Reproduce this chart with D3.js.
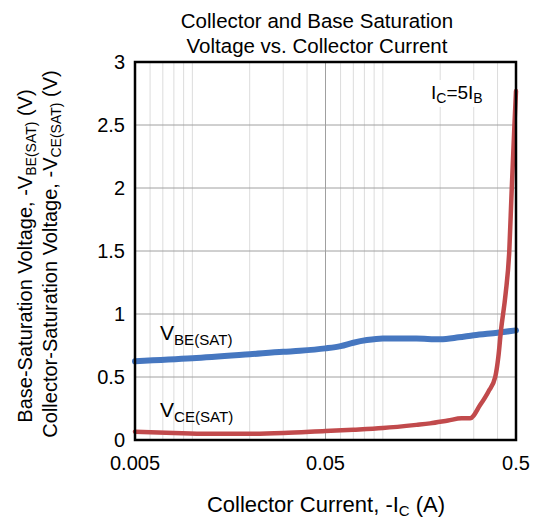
<!DOCTYPE html>
<html><head><meta charset="utf-8">
<script src="https://cdn.jsdelivr.net/npm/d3@7"></script>
<style>body{margin:0;background:#fff}svg{display:block;font-family:"Liberation Sans",Arial,sans-serif}</style>
</head><body><svg id="c" width="537" height="522"></svg>
<script>
const vbeCurrent = [0.005, 0.01, 0.02, 0.03, 0.0367, 0.05, 0.06, 0.07, 0.0824, 0.1, 0.15, 0.2, 0.25, 0.3, 0.4, 0.5];
const vbeValues  = [0.625, 0.648, 0.68, 0.70, 0.708, 0.727, 0.745, 0.772, 0.793, 0.806, 0.805, 0.80, 0.815, 0.832, 0.852, 0.87];
const vceCurrent = [0.005, 0.008, 0.012, 0.02, 0.03, 0.05, 0.07, 0.1, 0.15, 0.177, 0.22, 0.259, 0.287, 0.324, 0.358, 0.389, 0.404, 0.417, 0.441, 0.461, 0.474, 0.49, 0.5];
const vceValues  = [0.066, 0.056, 0.05, 0.05, 0.056, 0.072, 0.082, 0.095, 0.12, 0.132, 0.155, 0.172, 0.172, 0.277, 0.383, 0.50, 0.66, 0.87, 1.16, 1.5, 1.96, 2.48, 2.77];
const xTicks = [0.005, 0.05, 0.5];
const yTicks = [0, 0.5, 1, 1.5, 2, 2.5, 3];

const svg = d3.select("#c");
const L = 135, R = 516, T = 62, B = 440;
const x = d3.scaleLog().domain([0.005, 0.5]).range([L, R]);
const y = d3.scaleLinear().domain([0, 3]).range([B, T]);

// minor vertical grid
const minor = [];
[0.001, 0.01, 0.1].forEach(d => { for (let k = 1; k <= 9; k++) { const v = d * k; if (v > 0.005 && v < 0.5 && Math.abs(v - 0.05) > 1e-9) minor.push(v); } });
svg.append("g").selectAll("line").data(minor).join("line")
  .attr("x1", d => x(d)).attr("x2", d => x(d)).attr("y1", T).attr("y2", B)
  .attr("stroke", "#dcdcdc").attr("stroke-width", 1);
svg.append("g").selectAll("line").data([0.05]).join("line")
  .attr("x1", d => x(d)).attr("x2", d => x(d)).attr("y1", T).attr("y2", B)
  .attr("stroke", "#a0a0a0").attr("stroke-width", 1);
svg.append("g").selectAll("line").data(yTicks.slice(1, -1)).join("line")
  .attr("x1", L).attr("x2", R).attr("y1", d => y(d)).attr("y2", d => y(d))
  .attr("stroke", "#a0a0a0").attr("stroke-width", 1);

// annotation
const ann = svg.append("g");
ann.append("rect").attr("x", 428).attr("y", 80).attr("width", 64).attr("height", 27).attr("fill", "#fff");
const at = ann.append("text").attr("x", 431).attr("y", 99).attr("font-size", 19).attr("fill", "#000");
at.append("tspan").text("I");
at.append("tspan").attr("dy", 4).attr("font-size", 14).text("C");
at.append("tspan").attr("dy", -4).text("=5I");
at.append("tspan").attr("dy", 4).attr("font-size", 14).text("B");

const line = d3.line().x(d => x(d[0])).y(d => y(d[1])).curve(d3.curveMonotoneX);
svg.append("path").datum(vbeCurrent.map((c, i) => [c, vbeValues[i]]))
  .attr("d", line).attr("fill", "none").attr("stroke", "#4677c0").attr("stroke-width", 6).attr("stroke-linecap", "round");
svg.append("path").datum(vceCurrent.map((c, i) => [c, vceValues[i]]))
  .attr("d", line).attr("fill", "none").attr("stroke", "#c14a4c").attr("stroke-width", 4.5).attr("stroke-linecap", "round");

// frame
svg.append("rect").attr("x", L).attr("y", T).attr("width", R - L).attr("height", B - T)
  .attr("fill", "none").attr("stroke", "#000").attr("stroke-width", 2.5);

// axes tick labels
svg.append("g").selectAll("text").data(yTicks).join("text")
  .attr("x", 125).attr("y", d => y(d) + 7).attr("text-anchor", "end").attr("font-size", 20).text(d => d);
svg.append("g").selectAll("text").data(xTicks).join("text")
  .attr("x", d => x(d)).attr("y", 469.5).attr("text-anchor", "middle").attr("font-size", 20).text(d => d);

// curve labels
function sub(g, xx, yy, main, s, fs) {
  const t = g.append("text").attr("x", xx).attr("y", yy).attr("font-size", fs);
  t.append("tspan").text(main);
  t.append("tspan").attr("dy", 5).attr("font-size", fs * 0.72).text(s);
  return t;
}
sub(svg, 160, 340, "V", "BE(SAT)", 21);
sub(svg, 160, 417, "V", "CE(SAT)", 21);

// title
svg.append("text").attr("x", 317).attr("y", 28).attr("text-anchor", "middle").attr("font-size", 20.5).text("Collector and Base Saturation");
svg.append("text").attr("x", 317).attr("y", 53).attr("text-anchor", "middle").attr("font-size", 20.5).text("Voltage vs. Collector Current");

// x title
const xt = svg.append("text").attr("x", 326).attr("y", 512).attr("text-anchor", "middle").attr("font-size", 22);
xt.append("tspan").text("Collector Current, -I");
xt.append("tspan").attr("dy", 4).attr("font-size", 15).text("C");
xt.append("tspan").attr("dy", -4).text(" (A)");

// y title (rotated, two lines)
const yt1 = svg.append("text").attr("transform", "translate(32,256) rotate(-90)").attr("text-anchor", "middle").attr("font-size", 20);
yt1.append("tspan").text("Base-Saturation Voltage, -V");
yt1.append("tspan").attr("dy", 4).attr("font-size", 14).text("BE(SAT)");
yt1.append("tspan").attr("dy", -4).text(" (V)");
const yt2 = svg.append("text").attr("transform", "translate(57,254) rotate(-90)").attr("text-anchor", "middle").attr("font-size", 20);
yt2.append("tspan").text("Collector-Saturation Voltage, -V");
yt2.append("tspan").attr("dy", 4).attr("font-size", 14).text("CE(SAT)");
yt2.append("tspan").attr("dy", -4).text(" (V)");
</script></body></html>
